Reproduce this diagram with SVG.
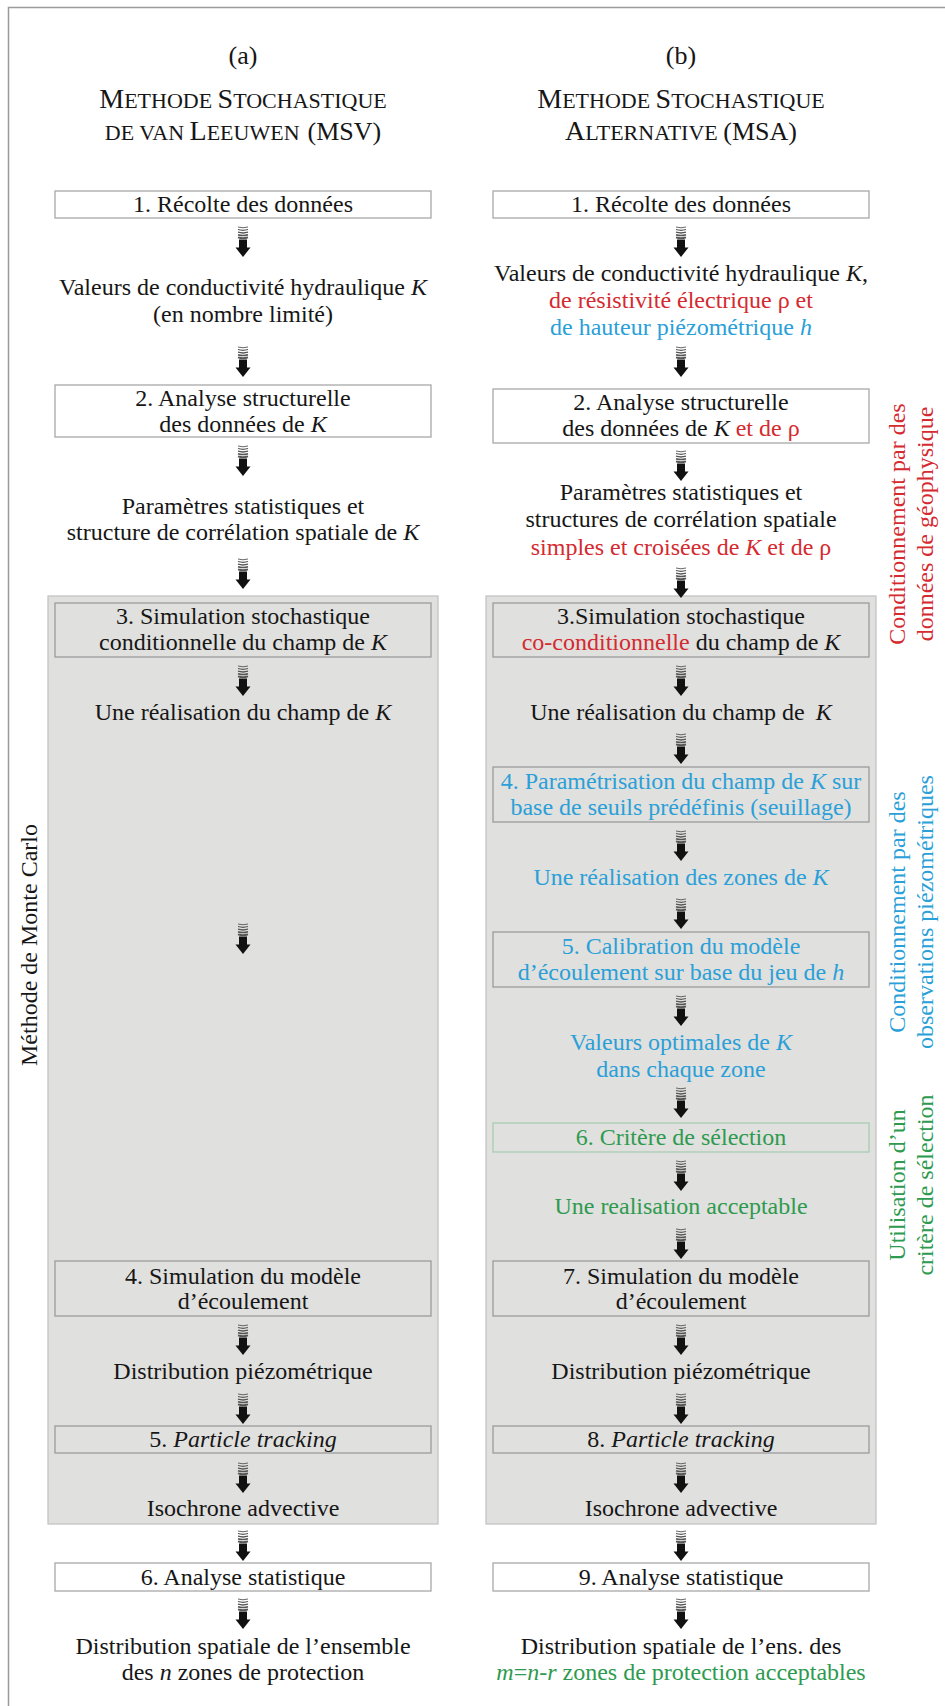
<svg xmlns="http://www.w3.org/2000/svg" xmlns:xlink="http://www.w3.org/1999/xlink" width="945" height="1706" viewBox="0 0 945 1706">
  <style>
    .t { font-family: "Liberation Serif", "Times New Roman", serif; font-size: 24px; fill: #161616; text-anchor: middle; }
    .hd { font-family: "Liberation Serif", "Times New Roman", serif; fill: #161616; text-anchor: middle; }
    .i { font-style: italic; }
    .red { fill: #d42a30; }
    .blue { fill: #2a9fd8; }
    .green { fill: #2e9a4f; }
    .box { fill: #ffffff; stroke: #a8a8a8; stroke-width: 1.3; }
    .boxg { fill: #e0e0de; stroke: #9c9c9c; stroke-width: 1.3; }
    .boxgr { fill: #e0e0de; stroke: #a9cdb1; stroke-width: 1.3; }
    .panel { fill: #e0e0de; stroke: #c4c4c4; stroke-width: 1.3; }
    .frame { stroke: #9a9a9a; stroke-width: 1.5; fill: none; }
    .st { fill: none; stroke: #555; }
  </style>
  <defs>
    <!-- striped down arrow used between every step -->
    <g id="arrow">
      <path class="st" d="M-5,1 Q0,2.6 5,1" stroke-width="0.9"/>
      <path class="st" d="M-5,3.6 Q0,5.2 5,3.6" stroke-width="1.1"/>
      <path class="st" d="M-5,6.2 Q0,7.8 5,6.2" stroke-width="1.3"/>
      <path class="st" d="M-5,8.8 Q0,10.4 5,8.8" stroke-width="1.5"/>
      <path class="st" d="M-5,11.4 Q0,13 5,11.4" stroke-width="1.7" stroke="#333"/>
      <rect x="-4" y="13.5" width="8" height="8.5" fill="#111"/>
      <path d="M-7.5,21.5 L7.5,21.5 L0,31 Z" fill="#111"/>
    </g>
  </defs>

  <rect width="945" height="1706" fill="#ffffff"/>
  <path class="frame" d="M8.5,1706 V7.5 H945"/>

  <!-- column headings -->
  <g id="heading-a">
    <text class="hd" x="243" y="64" font-size="26">(a)</text>
    <text class="hd" x="243" y="108"><tspan font-size="28">M</tspan><tspan font-size="22">ETHODE </tspan><tspan font-size="28">S</tspan><tspan font-size="22">TOCHASTIQUE</tspan></text>
    <text class="hd" x="243" y="140"><tspan font-size="22">DE VAN </tspan><tspan font-size="28">L</tspan><tspan font-size="22">EEUWEN</tspan><tspan font-size="26" dx="8">(MSV)</tspan></text>
  </g>
  <g id="heading-b">
    <text class="hd" x="681" y="64" font-size="26">(b)</text>
    <text class="hd" x="681" y="108"><tspan font-size="28">M</tspan><tspan font-size="22">ETHODE </tspan><tspan font-size="28">S</tspan><tspan font-size="22">TOCHASTIQUE</tspan></text>
    <text class="hd" x="681" y="140"><tspan font-size="28">A</tspan><tspan font-size="22">LTERNATIVE </tspan><tspan font-size="26">(MSA)</tspan></text>
  </g>

  <!-- Monte Carlo loop panels -->
  <g id="panel-a"><rect class="panel" x="48" y="596" width="390" height="928"/></g>
  <g id="panel-b"><rect class="panel" x="486" y="596" width="390" height="928"/></g>

  <!-- side labels -->
  <g id="label-monte-carlo">
    <text class="t" transform="translate(37,945) rotate(-90)">Méthode de Monte Carlo</text>
  </g>
  <g id="label-geophysique">
    <text class="t red" transform="translate(905,524) rotate(-90)">Conditionnement par des</text>
    <text class="t red" transform="translate(933,524) rotate(-90)">données de géophysique</text>
  </g>
  <g id="label-piezometrie">
    <text class="t blue" transform="translate(905,912) rotate(-90)">Conditionnement par des</text>
    <text class="t blue" transform="translate(933,912) rotate(-90)">observations piézométriques</text>
  </g>
  <g id="label-selection">
    <text class="t green" transform="translate(905,1185) rotate(-90)">Utilisation d’un</text>
    <text class="t green" transform="translate(933,1185) rotate(-90)">critère de sélection</text>
  </g>

  <!-- ===== column (a) ===== -->
  <g id="a-step1">
    <rect class="box" x="55" y="191" width="376" height="27"/>
    <text class="t" x="243" y="212">1. Récolte des données</text>
  </g>
  <g id="a-data">
    <text class="t" x="243" y="295">Valeurs de conductivité hydraulique <tspan class="i">K</tspan></text>
    <text class="t" x="243" y="322">(en nombre limité)</text>
  </g>
  <g id="a-step2">
    <rect class="box" x="55" y="385" width="376" height="52"/>
    <text class="t" x="243" y="406">2. Analyse structurelle</text>
    <text class="t" x="243" y="432">des données de <tspan class="i">K</tspan></text>
  </g>
  <g id="a-params">
    <text class="t" x="243" y="514">Paramètres statistiques et</text>
    <text class="t" x="243" y="540">structure de corrélation spatiale de <tspan class="i">K</tspan></text>
  </g>
  <g id="a-step3">
    <rect class="boxg" x="55" y="603" width="376" height="54"/>
    <text class="t" x="243" y="624">3. Simulation stochastique</text>
    <text class="t" x="243" y="650">conditionnelle du champ de <tspan class="i">K</tspan></text>
  </g>
  <g id="a-realisation">
    <text class="t" x="243" y="720">Une réalisation du champ de <tspan class="i">K</tspan></text>
  </g>
  <g id="a-step4">
    <rect class="boxg" x="55" y="1261" width="376" height="55"/>
    <text class="t" x="243" y="1284">4. Simulation du modèle</text>
    <text class="t" x="243" y="1309">d’écoulement</text>
  </g>
  <g id="a-piezo">
    <text class="t" x="243" y="1379">Distribution piézométrique</text>
  </g>
  <g id="a-step5">
    <rect class="boxg" x="55" y="1426" width="376" height="27"/>
    <text class="t" x="243" y="1447">5. <tspan class="i">Particle tracking</tspan></text>
  </g>
  <g id="a-isochrone">
    <text class="t" x="243" y="1516">Isochrone advective</text>
  </g>
  <g id="a-step6">
    <rect class="box" x="55" y="1563" width="376" height="28"/>
    <text class="t" x="243" y="1585">6. Analyse statistique</text>
  </g>
  <g id="a-result">
    <text class="t" x="243" y="1654">Distribution spatiale de l’ensemble</text>
    <text class="t" x="243" y="1680">des <tspan class="i">n</tspan> zones de protection</text>
  </g>

  <!-- ===== column (b) ===== -->
  <g id="b-step1">
    <rect class="box" x="493" y="191" width="376" height="27"/>
    <text class="t" x="681" y="212">1. Récolte des données</text>
  </g>
  <g id="b-data">
    <text class="t" x="681" y="281">Valeurs de conductivité hydraulique <tspan class="i">K</tspan>,</text>
    <text class="t red" x="681" y="308">de résistivité électrique ρ et</text>
    <text class="t blue" x="681" y="335">de hauteur piézométrique <tspan class="i">h</tspan></text>
  </g>
  <g id="b-step2">
    <rect class="box" x="493" y="389" width="376" height="54"/>
    <text class="t" x="681" y="410">2. Analyse structurelle</text>
    <text class="t" x="681" y="436">des données de <tspan class="i">K</tspan><tspan class="red"> et de ρ</tspan></text>
  </g>
  <g id="b-params">
    <text class="t" x="681" y="500">Paramètres statistiques et</text>
    <text class="t" x="681" y="527">structures de corrélation spatiale</text>
    <text class="t red" x="681" y="555">simples et croisées de <tspan class="i">K</tspan> et de ρ</text>
  </g>
  <g id="b-step3">
    <rect class="boxg" x="493" y="603" width="376" height="54"/>
    <text class="t" x="681" y="624">3.Simulation stochastique</text>
    <text class="t" x="681" y="650"><tspan class="red">co-conditionnelle</tspan> du champ de <tspan class="i">K</tspan></text>
  </g>
  <g id="b-realisation">
    <text class="t" x="681" y="720">Une réalisation du champ de <tspan class="i" dx="5">K</tspan></text>
  </g>
  <g id="b-step4">
    <rect class="boxg" x="493" y="767" width="376" height="55"/>
    <text class="t blue" x="681" y="789">4. Paramétrisation du champ de <tspan class="i">K</tspan> sur</text>
    <text class="t blue" x="681" y="815">base de seuils prédéfinis (seuillage)</text>
  </g>
  <g id="b-zones">
    <text class="t blue" x="681" y="885">Une réalisation des zones de <tspan class="i">K</tspan></text>
  </g>
  <g id="b-step5">
    <rect class="boxg" x="493" y="932" width="376" height="55"/>
    <text class="t blue" x="681" y="954">5. Calibration du modèle</text>
    <text class="t blue" x="681" y="980">d’écoulement sur base du jeu de <tspan class="i">h</tspan></text>
  </g>
  <g id="b-optimal">
    <text class="t blue" x="681" y="1050">Valeurs optimales de <tspan class="i">K</tspan></text>
    <text class="t blue" x="681" y="1077">dans chaque zone</text>
  </g>
  <g id="b-step6">
    <rect class="boxgr" x="493" y="1123" width="376" height="29"/>
    <text class="t green" x="681" y="1145">6. Critère de sélection</text>
  </g>
  <g id="b-acceptable">
    <text class="t green" x="681" y="1214">Une realisation acceptable</text>
  </g>
  <g id="b-step7">
    <rect class="boxg" x="493" y="1261" width="376" height="55"/>
    <text class="t" x="681" y="1284">7. Simulation du modèle</text>
    <text class="t" x="681" y="1309">d’écoulement</text>
  </g>
  <g id="b-piezo">
    <text class="t" x="681" y="1379">Distribution piézométrique</text>
  </g>
  <g id="b-step8">
    <rect class="boxg" x="493" y="1426" width="376" height="27"/>
    <text class="t" x="681" y="1447">8. <tspan class="i">Particle tracking</tspan></text>
  </g>
  <g id="b-isochrone">
    <text class="t" x="681" y="1516">Isochrone advective</text>
  </g>
  <g id="b-step9">
    <rect class="box" x="493" y="1563" width="376" height="28"/>
    <text class="t" x="681" y="1585">9. Analyse statistique</text>
  </g>
  <g id="b-result">
    <text class="t" x="681" y="1654">Distribution spatiale de l’ens. des</text>
    <text class="t green" x="681" y="1680"><tspan class="i">m</tspan>=<tspan class="i">n-r</tspan> zones de protection acceptables</text>
  </g>

  <!-- connectors -->
  <g id="connectors">
    <use xlink:href="#arrow" transform="translate(243,226)"/>
    <use xlink:href="#arrow" transform="translate(243,346)"/>
    <use xlink:href="#arrow" transform="translate(243,445)"/>
    <use xlink:href="#arrow" transform="translate(243,558)"/>
    <use xlink:href="#arrow" transform="translate(243,665)"/>
    <use xlink:href="#arrow" transform="translate(243,923)"/>
    <use xlink:href="#arrow" transform="translate(243,1324)"/>
    <use xlink:href="#arrow" transform="translate(243,1393)"/>
    <use xlink:href="#arrow" transform="translate(243,1462)"/>
    <use xlink:href="#arrow" transform="translate(243,1530)"/>
    <use xlink:href="#arrow" transform="translate(243,1598)"/>

    <use xlink:href="#arrow" transform="translate(681,226)"/>
    <use xlink:href="#arrow" transform="translate(681,346)"/>
    <use xlink:href="#arrow" transform="translate(681,450)"/>
    <use xlink:href="#arrow" transform="translate(681,567)"/>
    <use xlink:href="#arrow" transform="translate(681,665)"/>
    <use xlink:href="#arrow" transform="translate(681,733)"/>
    <use xlink:href="#arrow" transform="translate(681,830)"/>
    <use xlink:href="#arrow" transform="translate(681,898)"/>
    <use xlink:href="#arrow" transform="translate(681,995)"/>
    <use xlink:href="#arrow" transform="translate(681,1087)"/>
    <use xlink:href="#arrow" transform="translate(681,1160)"/>
    <use xlink:href="#arrow" transform="translate(681,1228)"/>
    <use xlink:href="#arrow" transform="translate(681,1324)"/>
    <use xlink:href="#arrow" transform="translate(681,1393)"/>
    <use xlink:href="#arrow" transform="translate(681,1462)"/>
    <use xlink:href="#arrow" transform="translate(681,1530)"/>
    <use xlink:href="#arrow" transform="translate(681,1598)"/>
  </g>
</svg>
